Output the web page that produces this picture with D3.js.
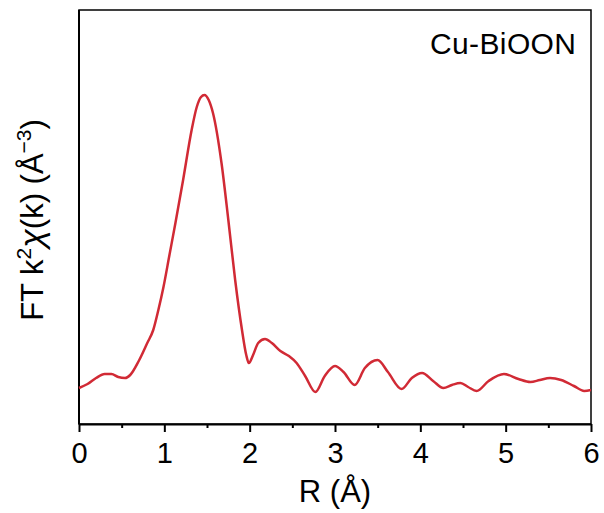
<!DOCTYPE html>
<html>
<head>
<meta charset="utf-8">
<script src="https://cdn.jsdelivr.net/npm/d3@7"></script>
<style>
	body { margin: 0; background: #fff; }
	svg { display: block; font-family: Arial, "Liberation Sans", sans-serif; }
</style>
</head>
<body>
<svg width="604" height="513"></svg>
<script>
// R (Å) positions and FT magnitude (arbitrary units)
const rValues = [
	0.00, 0.10, 0.20, 0.30, 0.38, 0.46, 0.54, 0.60, 0.70, 0.80,
	0.87, 0.93, 0.99, 1.06, 1.13, 1.22, 1.32, 1.38, 1.43, 1.47,
	1.52, 1.57, 1.67, 1.75, 1.83, 1.91, 1.96, 1.99, 2.04, 2.10,
	2.18, 2.26, 2.36, 2.46, 2.55, 2.65, 2.77, 2.88, 3.00, 3.10,
	3.23, 3.35, 3.50, 3.62, 3.78, 3.90, 4.02, 4.15, 4.27, 4.37,
	4.47, 4.56, 4.66, 4.80, 4.98, 5.15, 5.29, 5.40, 5.52, 5.65,
	5.80, 5.92, 6.00
];
const ftValues = [
	0.36, 0.40, 0.46, 0.50, 0.50, 0.47, 0.46, 0.49, 0.63, 0.81,
	0.94, 1.14, 1.37, 1.69, 2.01, 2.44, 2.94, 3.17, 3.27, 3.29,
	3.24, 3.11, 2.61, 2.04, 1.44, 0.94, 0.69, 0.61, 0.69, 0.81,
	0.85, 0.81, 0.73, 0.68, 0.61, 0.48, 0.32, 0.48, 0.58, 0.52,
	0.39, 0.56, 0.64, 0.52, 0.35, 0.46, 0.51, 0.43, 0.36, 0.39,
	0.41, 0.37, 0.33, 0.43, 0.50, 0.45, 0.42, 0.44, 0.46, 0.44,
	0.38, 0.33, 0.34
];
const xTicks = [0, 1, 2, 3, 4, 5, 6];
const xMinorTicks = [0.5, 1.5, 2.5, 3.5, 4.5, 5.5];
const sampleName = 'Cu-BiOON';

const svg = d3.select('svg');
const width = +svg.attr('width');
const height = +svg.attr('height');
const margin = { top: 10, right: 13, bottom: 89, left: 79 };
const w = width - margin.left - margin.right;
const h = height - margin.top - margin.bottom;

const x = d3.scaleLinear().domain([0, 6]).range([0, w]);
const y = d3.scaleLinear().domain([0, 4.14]).range([h, 0]);

const g = svg.append('g')
	.attr('transform', `translate(${margin.left},${margin.top})`);

// frame
g.append('rect')
	.attr('width', w)
	.attr('height', h)
	.attr('fill', 'none')
	.attr('stroke', '#000')
	.attr('stroke-width', 1.5);

// minor ticks
g.append('g')
	.attr('transform', `translate(0,${h})`)
	.call(d3.axisBottom(x).tickValues(xMinorTicks).tickSize(4).tickFormat(''))
	.call(a => a.select('.domain').remove())
	.selectAll('line').attr('stroke-width', 2);

const xAxis = g.append('g')
	.attr('transform', `translate(0,${h})`)
	.call(d3.axisBottom(x).tickValues(xTicks).tickSize(8).tickPadding(10).tickSizeOuter(0).tickFormat(d3.format('d')));
xAxis.select('.domain').attr('stroke-width', 2);
xAxis.selectAll('line').attr('stroke-width', 2);
xAxis.selectAll('text')
	.attr('font-size', 29)
	.attr('font-family', 'Arial, "Liberation Sans", sans-serif')
	.attr('fill', '#000');

// left axis line
g.append('line')
	.attr('x1', 0).attr('x2', 0)
	.attr('y1', 0).attr('y2', h)
	.attr('stroke', '#000')
	.attr('stroke-width', 2);

const data = rValues.map((r, i) => ({ r, v: ftValues[i] }));

const line = d3.line()
	.x(d => x(d.r))
	.y(d => y(d.v))
	.curve(d3.curveMonotoneX);

g.append('path')
	.datum(data)
	.attr('d', line)
	.attr('fill', 'none')
	.attr('stroke', '#d12a35')
	.attr('stroke-width', 2.5)
	.attr('stroke-linejoin', 'round');

g.append('text')
	.attr('x', 576 - margin.left)
	.attr('y', 54 - margin.top)
	.attr('text-anchor', 'end')
	.attr('font-size', 30)
	.attr('textLength', 146)
	.text(sampleName);

// axis titles
svg.append('text')
	.attr('x', margin.left + w / 2)
	.attr('y', 502)
	.attr('text-anchor', 'middle')
	.attr('font-size', 31)
	.text('R (Å)');

const yTitle = svg.append('text')
	.attr('transform', `translate(43,${margin.top + h / 2 + 3}) rotate(-90)`)
	.attr('text-anchor', 'middle')
	.attr('font-size', 31);
yTitle.append('tspan').text('FT k');
yTitle.append('tspan').attr('font-size', 21).attr('dy', -12).text('2');
yTitle.append('tspan').attr('font-style', 'italic').attr('font-size', 34).attr('dy', 12).text('χ');
yTitle.append('tspan').text('(k) (Å');
yTitle.append('tspan').attr('font-size', 21).attr('dy', -12).text('−3');
yTitle.append('tspan').attr('dy', 12).text(')');
</script>
</body>
</html>
